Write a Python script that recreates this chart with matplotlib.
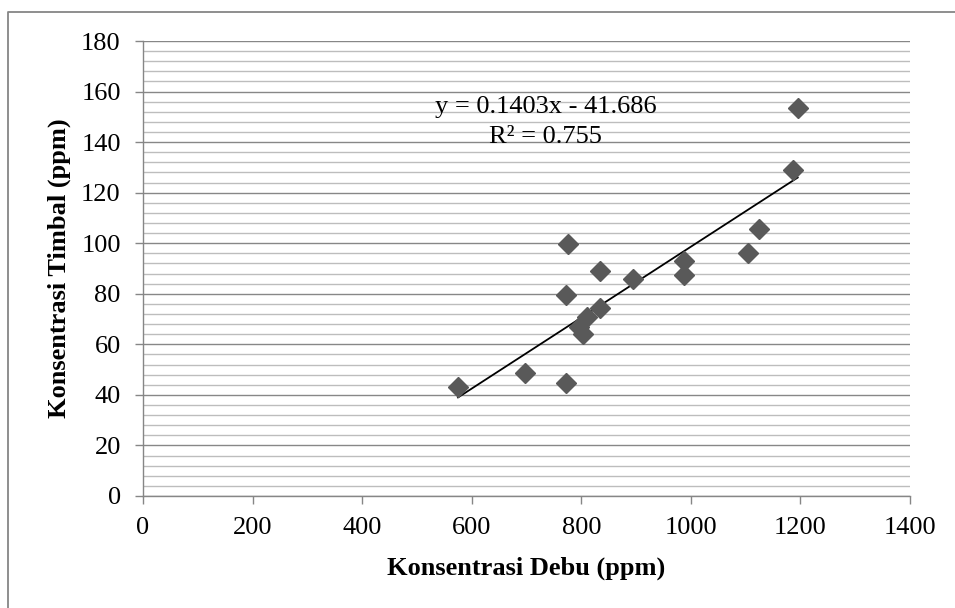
import numpy as np
import matplotlib
matplotlib.use('Agg')
import matplotlib.pyplot as plt
from matplotlib.ticker import MultipleLocator
from matplotlib.lines import Line2D

plt.rcParams['font.family'] = ['Liberation Serif', 'DejaVu Serif']

# data
debu = [575, 698, 772, 776, 773, 834, 834, 810, 795, 804, 894, 988, 987, 1105, 1124, 1187, 1195]
timbal = [43.3, 48.6, 44.7, 99.7, 79.6, 89.2, 74.3, 71.0, 67.0, 64.0, 85.8, 93.1, 87.5, 96.0, 105.6, 129.0, 153.4]
slope = 0.1403
intercept = -41.686
r2 = 0.755

fig = plt.figure(figsize=(9.55, 6.08), dpi=100)
ax = fig.add_axes([143/955, 1-496/608, (910-143)/955, (496-41)/608])

ax.set_xlim(0, 1400)
ax.set_ylim(0, 180)
ax.xaxis.set_major_locator(MultipleLocator(200))
ax.yaxis.set_major_locator(MultipleLocator(20))
ax.yaxis.set_minor_locator(MultipleLocator(4))

ax.grid(True, which='major', axis='y', color='#878787', lw=1.0)
ax.grid(True, which='minor', axis='y', color='#bdbdbd', lw=1.0)
ax.set_axisbelow(True)

for s in ['top', 'right']:
    ax.spines[s].set_visible(False)
for s in ['left', 'bottom']:
    ax.spines[s].set_color('#868686')
    ax.spines[s].set_linewidth(1.0)

ax.tick_params(which='major', direction='out', length=6, width=1.0, color='#868686',
               labelsize=19, pad=10)
ax.tick_params(which='minor', length=0)
ax.tick_params(axis='x', pad=9)

# trend line
xs = np.array([min(debu), max(debu)])
ax.plot(xs, slope*xs + intercept, color='black', lw=1.3, zorder=2)

ax.plot(debu, timbal, 'D', color='#595959', ms=10, mec='#595959', zorder=3)

ax.text(0.525, 0.855, 'y = %.4fx - %.3f' % (slope, -intercept), transform=ax.transAxes,
        ha='center', va='center', fontsize=19)
ax.text(0.525, 0.789, 'R² = %.3f' % r2, transform=ax.transAxes,
        ha='center', va='center', fontsize=19)

ax.set_xlabel('Konsentrasi Debu (ppm)', fontsize=19, fontweight='bold', labelpad=13)
ax.set_ylabel('Konsentrasi Timbal (ppm)', fontsize=19, fontweight='bold', labelpad=7)

# outer chart border (left and top visible)
fig.add_artist(Line2D([8/955, 8/955, 1.0], [0.0, 1-12/608, 1-12/608],
                      transform=fig.transFigure, color='#868686', lw=1.3))

fig.savefig('out.png', dpi=100)
